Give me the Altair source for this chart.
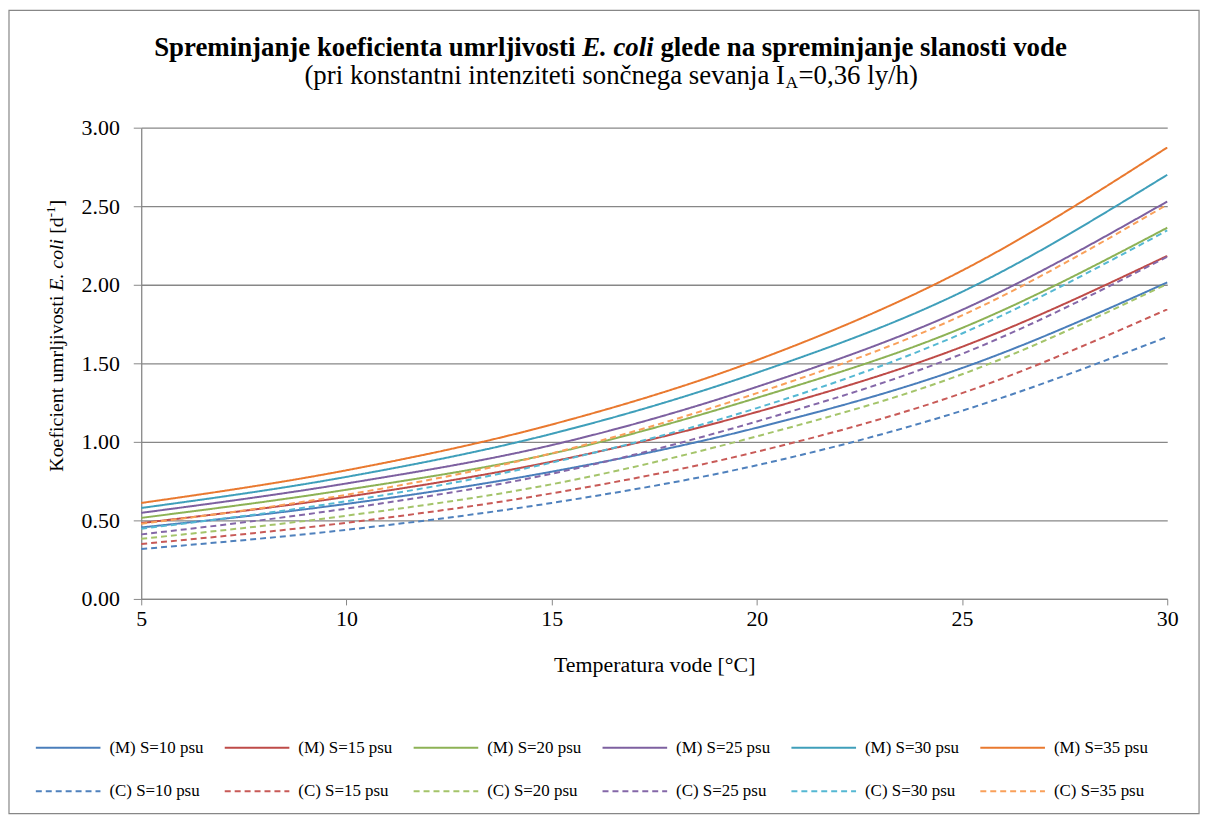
import altair as alt
import pandas as pd

# ---------------- data ----------------
temperature = [5, 10, 15, 20, 25, 30]
x_ticks = [5, 10, 15, 20, 25, 30]
y_ticks = [0, 0.5, 1.0, 1.5, 2.0, 2.5, 3.0]

m_s10 = [0.455, 0.605, 0.810, 1.090, 1.470, 2.015]
m_s15 = [0.483, 0.650, 0.874, 1.190, 1.605, 2.184]
m_s20 = [0.516, 0.695, 0.925, 1.280, 1.725, 2.363]
m_s25 = [0.548, 0.735, 0.979, 1.350, 1.840, 2.530]
m_s30 = [0.579, 0.777, 1.051, 1.440, 1.955, 2.700]
m_s35 = [0.611, 0.819, 1.110, 1.520, 2.090, 2.874]

c_s10 = [0.318, 0.440, 0.611, 0.851, 1.198, 1.668]
c_s15 = [0.350, 0.485, 0.672, 0.937, 1.310, 1.843]
c_s20 = [0.383, 0.530, 0.730, 1.035, 1.430, 2.005]
c_s25 = [0.411, 0.575, 0.797, 1.130, 1.560, 2.178]
c_s30 = [0.447, 0.622, 0.868, 1.215, 1.690, 2.346]
c_s35 = [0.478, 0.663, 0.927, 1.310, 1.805, 2.510]

series_names = [
    "(M) S=10 psu", "(M) S=15 psu", "(M) S=20 psu",
    "(M) S=25 psu", "(M) S=30 psu", "(M) S=35 psu",
    "(C) S=10 psu", "(C) S=15 psu", "(C) S=20 psu",
    "(C) S=25 psu", "(C) S=30 psu", "(C) S=35 psu",
]
series_values = [m_s10, m_s15, m_s20, m_s25, m_s30, m_s35,
                 c_s10, c_s15, c_s20, c_s25, c_s30, c_s35]

m_colors = ["#4A7EBB", "#BE4B48", "#8DB255", "#7D60A0", "#3F9FBA", "#E9792F"]
c_colors = ["#4F81BD", "#C85A57", "#A4C46A", "#8467A8", "#55B8D3", "#F9A05A"]
dashes = [[1, 0]] * 6 + [[6, 4]] * 6

rows = []
for name, vals in zip(series_names, series_values):
    for t, v in zip(temperature, vals):
        rows.append({"series": name, "T": t, "k": v})
df = pd.DataFrame(rows)

FONT = "Liberation Serif"
GRAY = "#878787"

legend = alt.Legend(
    title=None, orient="none", legendX=-107, legendY=590, columns=6,
    direction="horizontal",
    symbolType="stroke", symbolSize=4225, symbolStrokeWidth=2,
    labelFont=FONT, labelFontSize=17, labelColor="black", labelOffset=8,
    columnPadding=17, rowPadding=2, padding=0,
)

lines = alt.Chart(df).mark_line(strokeWidth=2, interpolate="monotone").encode(
    x=alt.X("T:Q", scale=alt.Scale(domain=[5, 30], nice=False, zero=False),
            axis=alt.Axis(values=x_ticks, title="Temperatura vode [°C]",
                          titleFont=FONT, titleFontSize=22, titleFontWeight="normal",
                          titleColor="black", titlePadding=25,
                          labelFont=FONT, labelFontSize=22, labelColor="black",
                          labelPadding=4, labelFlush=False, tickSize=6,
                          tickColor=GRAY, domainColor=GRAY, domainWidth=1.3,
                          grid=False)),
    y=alt.Y("k:Q", scale=alt.Scale(domain=[0, 3], nice=False),
            axis=alt.Axis(values=y_ticks, format=".2f", title=None,
                          labelFont=FONT, labelFontSize=22, labelColor="black",
                          labelPadding=14, labelFlush=False, tickSize=8,
                          tickColor=GRAY, domainColor=GRAY, domainWidth=1.3,
                          gridColor=GRAY, gridWidth=1.3)),
    color=alt.Color("series:N", scale=alt.Scale(domain=series_names, range=m_colors + c_colors),
                    legend=legend),
    strokeDash=alt.StrokeDash("series:N", scale=alt.Scale(domain=series_names, range=dashes),
                              legend=legend),
)


def txt(text, x, y, size, align="left", angle=0, dy=0, weight="normal", style="normal"):
    return alt.Chart(alt.Data(values=[{"t": text}])).mark_text(
        font=FONT, fontSize=size, align=align, baseline="middle", angle=angle,
        dy=dy, fontWeight=weight, fontStyle=style, color="black",
    ).encode(x=alt.value(x), y=alt.value(y), text="t:N")


# chart title (bold, with italic species name)
title_parts = [
    txt("Spreminjanje koeficienta umrljivosti", 436.75, -80, 27, align="right", weight="bold"),
    txt("E. coli", 443.5, -80, 27, weight="bold", style="italic"),
    txt("glede na spreminjanje slanosti vode", 522.25, -80, 27, weight="bold"),
]
# subtitle with subscript
subtitle_parts = [
    txt("(pri konstantni intenziteti sončnega sevanja I", 647.5, -52, 27, align="right"),
    txt("A", 648, -45, 17.5),
    txt("=0,36 ly/h)", 661, -52, 27),
]
# y-axis title, rotated, with italic species name and superscript
ytitle_parts = [
    txt("Koeficient umrljivosti", -85, 346, 20, angle=270),
    txt("E. coli", -85, 164, 20, angle=270, style="italic"),
    txt("[d", -85, 106.8, 20, angle=270),
    txt("-1", -85, 90.1, 13, angle=270, dy=-6),
    txt("]", -85, 79.3, 20, angle=270),
]

frame = alt.Chart(alt.Data(values=[{}])).mark_rect(
    fillOpacity=0, stroke=GRAY, strokeWidth=1.2
).encode(x=alt.value(-133), x2=alt.value(1064), y=alt.value(-118), y2=alt.value(690))

chart = alt.layer(
    frame, lines, *title_parts, *subtitle_parts, *ytitle_parts
).properties(
    width=1032, height=474,
    padding={"left": 134, "top": 118, "right": 40, "bottom": 225},
    autosize="none",
).configure_view(strokeWidth=0)

chart.save("out.html", embed_options={"renderer": "svg", "actions": False})
